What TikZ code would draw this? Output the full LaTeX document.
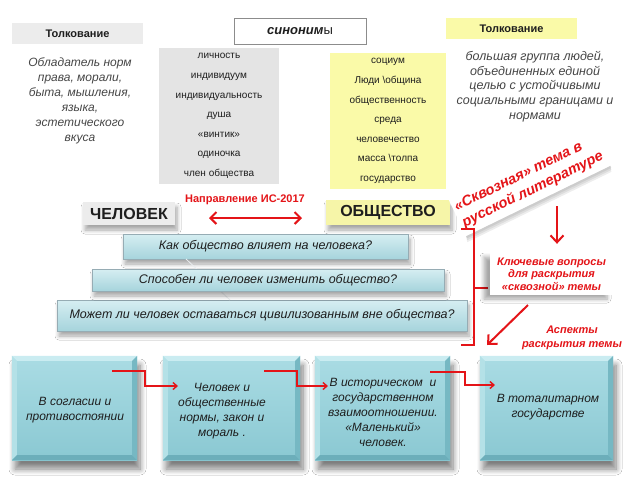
\documentclass[tikz,border=0pt]{standalone}
\usepackage{fontspec}
\setmainfont{Liberation Sans}
\usetikzlibrary{arrows.meta,shadows,shadows.blur,calc}
\definecolor{myred}{RGB}{228,20,24}
\definecolor{txtdark}{RGB}{30,30,30}
\definecolor{txtgray}{RGB}{70,70,70}
\definecolor{lgray}{RGB}{236,236,236}
\definecolor{sgray}{RGB}{228,228,228}
\definecolor{lyellow}{RGB}{250,250,168}
\definecolor{oyellow}{RGB}{246,245,168}
\definecolor{qtop}{RGB}{214,238,242}
\definecolor{qbot}{RGB}{166,212,220}
\definecolor{qborder}{RGB}{150,172,180}
\definecolor{afacetop}{RGB}{170,220,228}
\definecolor{afacebot}{RGB}{138,200,210}
\definecolor{abtop}{RGB}{202,236,241}
\definecolor{ableft}{RGB}{180,225,231}
\definecolor{abright}{RGB}{118,184,195}
\definecolor{abbot}{RGB}{108,174,186}
\tikzset{
  softshadow/.style={blur shadow={shadow xshift=2pt,shadow yshift=-5pt,shadow blur steps=6,shadow blur radius=4pt,shadow opacity=35}},
  deepshadow/.style={blur shadow={shadow xshift=3pt,shadow yshift=-9pt,shadow blur steps=8,shadow blur radius=6pt,shadow opacity=50}},
  tolkbox/.style={font=\fontsize{11}{13}\selectfont\bfseries, text=txtdark, minimum width=131pt, minimum height=21pt, inner sep=0pt},
  synlist/.style={font=\fontsize{10}{19.6}\selectfont, text=txtdark, align=center, inner sep=0pt},
  descr/.style={font=\fontsize{12}{15}\selectfont\itshape, text=txtgray, align=center, inner sep=0pt},
  bigword/.style={font=\fontsize{16}{18}\selectfont\bfseries, text=txtdark, inner sep=0pt, softshadow},
  qbox/.style={font=\fontsize{12.5}{14}\selectfont\itshape, text=txtdark, top color=qtop, bottom color=qbot, draw=qborder, line width=0.6pt, inner sep=0pt, softshadow},
  aspbox/.style={top color=afacetop, bottom color=afacebot, inner sep=0pt, minimum height=104pt, deepshadow},
  redtxt/.style={font=\fontsize{11}{12.5}\selectfont\bfseries\itshape, text=myred, align=center},
  redline/.style={draw=myred, line width=1.6pt},
  elbow/.style={draw=myred, line width=1.4pt, -{Straight Barb[length=4pt,width=7pt]}},
  bigarrow/.style={draw=myred, line width=2pt, -{Straight Barb[length=7pt,width=13pt]}},
}
\newcommand\bevelit[1]{%
  \fill[abtop] (#1.north west) -- (#1.north east) -- ([xshift=-5pt,yshift=-5pt]#1.north east) -- ([xshift=5pt,yshift=-5pt]#1.north west) -- cycle;
  \fill[ableft] (#1.north west) -- ([xshift=5pt,yshift=-5pt]#1.north west) -- ([xshift=5pt,yshift=5pt]#1.south west) -- (#1.south west) -- cycle;
  \fill[abright] (#1.north east) -- ([xshift=-5pt,yshift=-5pt]#1.north east) -- ([xshift=-5pt,yshift=5pt]#1.south east) -- (#1.south east) -- cycle;
  \fill[abbot] (#1.south west) -- ([xshift=5pt,yshift=5pt]#1.south west) -- ([xshift=-5pt,yshift=5pt]#1.south east) -- (#1.south east) -- cycle;
}
\begin{document}
\begin{tikzpicture}[x=1pt,y=-1pt]
\useasboundingbox[fill=white] (0,0) rectangle (640,480);

% top left
\node[tolkbox, fill=lgray] (t1) at (77.5,33.5) {Толкование};
\node[descr] (d1) at (80,101) {Обладатель норм\\права, морали,\\быта, мышления,\\языка,\\эстетического\\вкуса};

% synonyms header
\node[draw=gray!90, line width=1pt, fill=white, minimum width=132pt, minimum height=26pt, inner sep=0pt,
      font=\fontsize{13}{15}\selectfont, text=txtdark] (syn) at (300,31) {\textbf{\textit{синоним}}ы};

% synonym lists
\node[fill=sgray, minimum width=120pt, minimum height=136pt, inner sep=0pt] (sg) at (219,116) {};
\node[synlist] (sgt) at (sg.center) {личность\\индивидуум\\индивидуальность\\душа\\«винтик»\\одиночка\\член общества};
\node[fill=lyellow, minimum width=116pt, minimum height=136pt, inner sep=0pt] (sy) at (388,121) {};
\node[synlist] (syt) at (sy.center) {социум\\Люди \textbackslash община\\общественность\\среда\\человечество\\масса \textbackslash толпа\\государство};

% top right
\node[tolkbox, fill=lyellow] (t2) at (511.5,28.5) {Толкование};
\node[descr, font=\fontsize{12.5}{14.7}\selectfont\itshape] (d2) at (535,86.5) {большая группа людей,\\объединенных единой\\целью с устойчивыми\\социальными границами и\\нормами};

% main words
\node[bigword, fill=lgray, minimum width=92pt, minimum height=23pt] (chel) at (129,213.5) {ЧЕЛОВЕК};
\node[bigword, fill=oyellow, minimum width=124pt, minimum height=25pt] (obsh) at (388,212.5) {ОБЩЕСТВО};

% banner (white, rotated) with a soft shadow strip under its lower edge
\node[rotate=26, inner sep=0pt, minimum width=160pt, minimum height=42pt, fill=white, text=myred,
      font=\fontsize{14.5}{18}\selectfont\bfseries\itshape, align=left] (ban) at (529,182)
      {«Сквозная» тема в\\русской литературе};
\foreach \k in {2,4,6} {
  \fill[black, fill opacity=0.07] (ban.south west) -- (ban.south east)
     -- ([xshift=1pt,yshift=-\k pt]ban.south east) -- ([xshift=1pt,yshift=-\k pt]ban.south west) -- cycle;
}

% direction
\node[font=\fontsize{11}{13}\selectfont\bfseries, text=myred, inner sep=0pt] (dir) at (245,200) {Направление ИС-2017};
\coordinate (dl) at (209,218);
\coordinate (dr) at (302,218);
\draw[draw=myred, line width=2pt, {Straight Barb[length=6pt,width=12pt]}-{Straight Barb[length=6pt,width=12pt]}] (dl) -- (dr);

% questions
\node[qbox, minimum width=285pt, minimum height=25pt] (q1) at (265.5,246.5) {Как общество влияет на человека?};
\node[qbox, minimum width=410pt, minimum height=31pt] (q3) at (262,315.5) {Может ли человек оставаться цивилизованным вне общества?};
\coordinate (fl1) at (186,259);
\coordinate (fl2) at (230,300);
\draw[draw=white!80!qborder, line width=0.8pt] (fl1) -- (fl2);
\node[qbox, minimum width=352pt, minimum height=22pt] (q2) at (268,280) {Способен ли человек изменить общество?};

% brace
\coordinate (br1) at (461,229);
\coordinate (br2) at (474,229);
\coordinate (br3) at (474,345);
\coordinate (br4) at (461,345);
\coordinate (brm) at (474,288);
\coordinate (brt) at (488,288);
\draw[redline] (br1) -- (br2) -- (br3) -- (br4);
\draw[redline] (brm) -- (brt);

% key questions
\node[fill=white, minimum width=123pt, minimum height=42pt, inner sep=0pt, redtxt,
      blur shadow={shadow xshift=-6pt,shadow yshift=-4pt,shadow blur steps=6,shadow blur radius=4pt,shadow opacity=35}] (kv) at (551.5,274)
      {Ключевые вопросы\\для раскрытия\\«сквозной» темы};
\coordinate (a1s) at (557,206);
\draw[bigarrow] (a1s) -- ($(kv.north)+(5.5,-9)$);
\coordinate (a2s) at (528,305);
\coordinate (a2e) at (487,345);
\draw[bigarrow] (a2s) -- (a2e);
\node[redtxt, font=\fontsize{11}{14}\selectfont\bfseries\itshape] (asp) at (572,338) {Аспекты\\раскрытия темы};

% aspect boxes
\node[aspbox, minimum width=125pt] (b1) at (74.5,408) {};
\bevelit{b1}
\node[aspbox, minimum width=137pt] (b2) at (231.5,408) {};
\bevelit{b2}
\node[aspbox, minimum width=135pt] (b3) at (382.5,408) {};
\bevelit{b3}
\node[aspbox, minimum width=133pt] (b4) at (546.5,408) {};
\bevelit{b4}
\node[descr, text=txtdark] (b1t) at (75,410) {В согласии и\\противостоянии};
\node[descr, text=txtdark] (b2t) at (222,411) {Человек и\\общественные\\нормы, закон и\\мораль .};
\node[descr, text=txtdark] (b3t) at (383,412) {В историческом\ \ и\\государственном\\взаимоотношении.\\«Маленький»\\человек.};
\node[descr, text=txtdark] (b4t) at (548,407) {В тоталитарном\\государстве};

% elbows
\coordinate (e1s) at (112,371);
\coordinate (e1e) at (178,386);
\draw[elbow] (e1s) -- (145,371) -- (145,386) -- (e1e);
\coordinate (e2s) at (264,371);
\coordinate (e2e) at (328,386);
\draw[elbow] (e2s) -- (297,371) -- (297,386) -- (e2e);
\coordinate (e3s) at (430,372);
\coordinate (e3e) at (495,385);
\draw[elbow] (e3s) -- (465,372) -- (465,385) -- (e3e);
\end{tikzpicture}
\end{document}
